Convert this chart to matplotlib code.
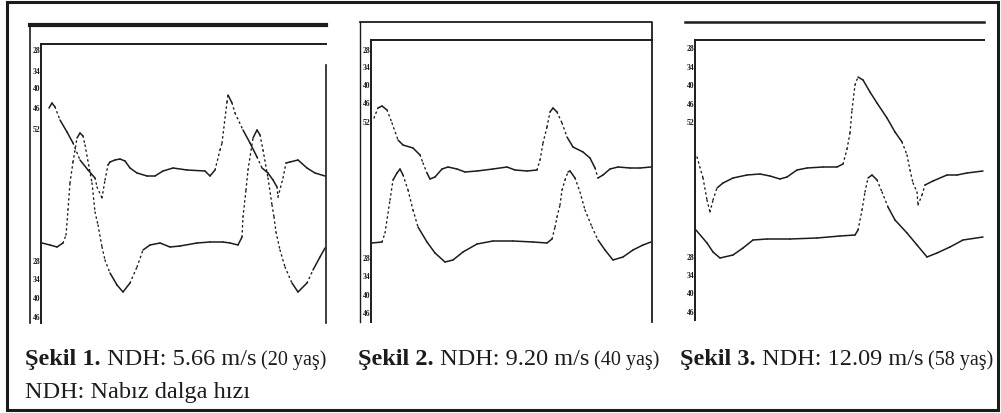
import matplotlib
matplotlib.use("Agg")
import matplotlib.pyplot as plt
from matplotlib.patches import Rectangle

# Pulse wave traces (sample, level), one pair per trace
p1_up_t = [49, 52, 55, 60, 67, 73, 80, 88, 95, 97, 102, 105, 108, 110, 115, 120, 125, 130, 137, 147, 155, 163,
           173, 187, 205, 210, 215, 220, 222, 227, 228, 232, 235, 243, 250, 257, 262, 268, 273, 277, 278, 283,
           286, 290, 298, 307, 315, 325]
p1_up_v = [108, 103, 107, 120, 132, 143, 160, 170, 178, 187, 198, 180, 165, 162, 160, 159, 161, 168, 173, 176, 176, 171,
           168, 170, 171, 176, 170, 150, 143, 102, 95, 103, 113, 130, 143, 157, 168, 173, 180, 187, 197, 178,
           163, 162, 160, 168, 173, 176]
p1_lo_t = [42, 50, 57, 63, 66, 68, 70, 73, 77, 80, 83, 85, 92, 95, 98, 102, 105, 110, 117, 123, 130, 137, 143,
           150, 160, 170, 180, 197, 210, 223, 230, 238, 242, 243, 246, 248, 253, 257, 260, 263, 268, 272, 274,
           276, 280, 285, 292, 298, 307, 313, 320, 325]
p1_lo_v = [243, 245, 247, 243, 235, 210, 183, 162, 138, 133, 136, 145, 183, 212, 225, 247, 260, 273, 285, 292, 283, 267, 250,
           245, 243, 247, 246, 243, 242, 242, 243, 245, 237, 217, 190, 170, 138, 130, 135, 150, 178, 205, 217,
           232, 250, 267, 283, 292, 283, 270, 257, 248]

p2_up_t = [374, 378, 382, 387, 392, 398, 403, 413, 420, 423, 427, 430, 435, 442, 448, 457, 465, 477, 493, 507, 515,
           527, 537, 540, 543, 547, 550, 553, 557, 562, 567, 573, 583, 590, 595, 598, 603, 610, 618, 630, 640, 651]
p2_up_v = [118, 108, 106, 110, 123, 140, 145, 148, 155, 163, 173, 179, 177, 169, 167, 169, 172, 171, 169, 167, 170,
           171, 170, 160, 143, 127, 112, 108, 112, 123, 137, 147, 152, 158, 168, 178, 175, 169, 167, 168, 168, 167]
p2_lo_t = [372, 382, 385, 390, 393, 397, 400, 403, 408, 413, 418, 427, 435, 445, 453, 463, 477, 493, 513, 533, 547,
           552, 555, 557, 560, 562, 565, 568, 570, 575, 580, 585, 592, 598, 605, 613, 623, 633, 643, 651]
p2_lo_v = [243, 242, 233, 200, 180, 173, 169, 175, 190, 210, 227, 242, 253, 262, 260, 252, 244, 241, 241, 242, 243,
           239, 227, 217, 205, 190, 180, 172, 171, 178, 192, 210, 227, 240, 250, 260, 257, 250, 245, 242]

p3_up_t = [697, 703, 707, 710, 713, 717, 723, 733, 747, 760, 770, 780, 787, 797, 807, 823, 837, 843, 847, 850, 852,
           855, 858, 863, 870, 877, 887, 895, 902, 907, 910, 913, 917, 918, 922, 925, 933, 947, 957, 967, 983]
p3_up_v = [157, 178, 200, 212, 200, 188, 183, 178, 175, 174, 176, 179, 177, 170, 168, 167, 167, 164, 149, 133, 110,
           85, 77, 80, 92, 103, 118, 132, 142, 155, 170, 183, 192, 205, 195, 185, 181, 175, 175, 173, 171]
p3_lo_t = [696, 707, 713, 720, 733, 743, 753, 767, 790, 817, 840, 855, 858, 862, 865, 868, 872, 877, 882, 888, 895,
           907, 917, 927, 937, 950, 963, 983]
p3_lo_v = [230, 243, 252, 258, 255, 248, 240, 239, 239, 238, 236, 235, 230, 210, 192, 178, 175, 180, 192, 207, 220,
           233, 245, 257, 253, 247, 240, 237]

upper_labels = ["28", "34", "40", "46", "52"]
lower_labels = ["28", "34", "40", "46"]

captions = [("Şekil 1.", " NDH: 5.66 m/s", " (20 yaş)"),
            ("Şekil 2.", " NDH: 9.20 m/s", " (40 yaş)"),
            ("Şekil 3.", " NDH: 12.09 m/s", " (58 yaş)")]
footnote = "NDH: Nabız dalga hızı"

W, H = 1001, 413
INK = "#1c1c1c"

fig = plt.figure(figsize=(W / 100, H / 100), dpi=100)
fig.patch.set_facecolor("white")

# background axes in pixel units for frames and captions
bg = fig.add_axes([0, 0, 1, 1])
bg.set_xlim(0, W)
bg.set_ylim(H, 0)
bg.axis("off")
bg.add_patch(Rectangle((7, 2), 991, 408, fill=False, lw=2.2, ec=INK))

# panel boxes: left, top, right, bottom (pixels)
boxes = [(41, 44, 326, 323), (371, 40, 652, 322), (695, 40, 984, 320)]
up_pos = [[50, 71, 88, 108, 129], [50, 67, 85, 103, 122], [48, 67, 85, 104, 122]]
lo_pos = [[261, 279, 298, 317], [258, 276, 295, 313], [257, 275, 293, 312]]
traces = [[(p1_up_t, p1_up_v), (p1_lo_t, p1_lo_v)],
          [(p2_up_t, p2_up_v), (p2_lo_t, p2_lo_v)],
          [(p3_up_t, p3_up_v), (p3_lo_t, p3_lo_v)]]

# outer recorder frames
bg.plot([30, 326], [25, 25], color=INK, lw=3)
bg.plot([30, 30], [25, 323], color=INK, lw=1.2)
bg.plot([326, 326], [65, 323], color=INK, lw=1.2)
bg.plot([360, 652, 652], [22, 22, 322], color=INK, lw=1.3)
bg.plot([360, 360], [22, 322], color=INK, lw=1.0)
bg.plot([685, 984], [22, 22], color=INK, lw=1.8)


def draw_trace(ax, t, v):
    for i in range(len(t) - 1):
        dx = t[i + 1] - t[i]
        dy = v[i + 1] - v[i]
        steep = abs(dy) > 2.0 * max(dx, 0.5)
        if steep:
            ax.plot(t[i:i + 2], v[i:i + 2], color=INK, lw=1.0, ls=(0, (1, 2.6)),
                    dash_capstyle="round")
        else:
            ax.plot(t[i:i + 2], v[i:i + 2], color=INK, lw=1.1, solid_capstyle="round")


for k, (l, t, r, b) in enumerate(boxes):
    ax = fig.add_axes([l / W, 1 - b / H, (r - l) / W, (b - t) / H])
    ax.set_xlim(l, r)
    ax.set_ylim(b, t)
    ax.patch.set_alpha(0)
    for s in ["right", "bottom"]:
        ax.spines[s].set_visible(False)
    for s in ["left", "top"]:
        ax.spines[s].set_linewidth(1.4)
        ax.spines[s].set_color(INK)
    ax.set_xticks([])
    ax.set_yticks(up_pos[k] + lo_pos[k])
    ax.set_yticklabels(upper_labels + lower_labels, fontsize=5.5, fontweight="bold",
                       family="Liberation Serif", color=INK)
    ax.tick_params(axis="y", length=0, pad=0.5)
    for tt, vv in traces[k]:
        draw_trace(ax, tt, vv)

# captions under each panel
fig.canvas.draw()
rend = fig.canvas.get_renderer()
cap_x = [25, 358, 680]


def put_line(x, y, parts):
    for s, size, weight in parts:
        txt = bg.text(x, y, s, fontsize=size, fontweight=weight, family="Liberation Serif",
                      color=INK, va="baseline", ha="left")
        x += txt.get_window_extent(renderer=rend).width


for x0, (a, b, c) in zip(cap_x, captions):
    put_line(x0, 365, [(a, 17.5, "bold"), (b, 17.5, "normal"), (c, 14.5, "normal")])
put_line(25, 398, [(footnote, 17.5, "normal")])

fig.savefig("out.png", dpi=100)
